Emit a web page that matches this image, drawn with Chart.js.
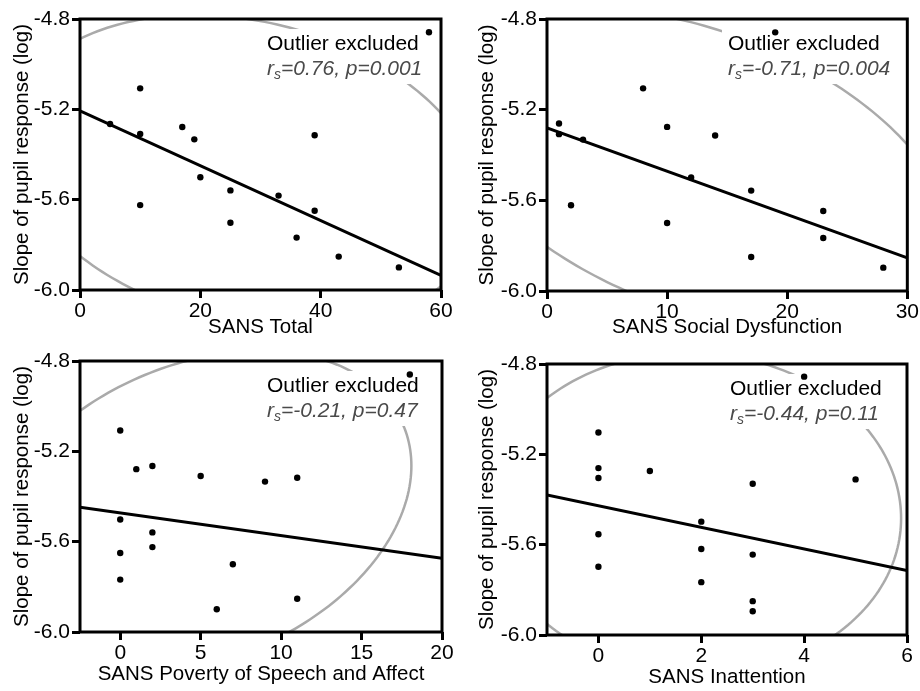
<!DOCTYPE html>
<html>
<head>
<meta charset="utf-8">
<script src="https://cdn.jsdelivr.net/npm/chart.js@4.4.1/dist/chart.umd.min.js"></script>
<style>
  html, body { margin: 0; padding: 0; background: #fff; }
  #wrap { position: relative; width: 920px; height: 691px; }
  .panel { position: absolute; }
</style>
</head>
<body>
<div id="wrap">
  <div class="panel" style="left:0;top:0;width:460px;height:345px"><canvas id="c1"></canvas></div>
  <div class="panel" style="left:460px;top:0;width:460px;height:345px"><canvas id="c2"></canvas></div>
  <div class="panel" style="left:0;top:345px;width:460px;height:346px"><canvas id="c3"></canvas></div>
  <div class="panel" style="left:460px;top:345px;width:460px;height:346px"><canvas id="c4"></canvas></div>
</div>
<script>
// shared y axis
const yTicks = [-4.8, -5.2, -5.6, -6.0];
const yTitle = 'Slope of pupil response (log)';

// SANS Total
const xTotal = [58, 10, 5, 10, 17, 19, 20, 10, 25, 25, 33, 39, 39, 36, 43, 53];
const yTotal = [-4.859, -5.107, -5.265, -5.309, -5.278, -5.333, -5.501, -5.624, -5.559, -5.702, -5.582, -5.315, -5.649, -5.768, -5.852, -5.900];
const fitTotal = [-5.207, -5.935];
const xTicksTotal = [0, 20, 40, 60];

// SANS Social Dysfunction
const xSocial = [19, 8, 1, 1, 3, 10, 14, 12, 17, 2, 10, 23, 23, 17, 28];
const ySocial = [-4.859, -5.106, -5.261, -5.308, -5.332, -5.276, -5.314, -5.499, -5.557, -5.622, -5.700, -5.647, -5.766, -5.850, -5.897];
const fitSocial = [-5.281, -5.854];
const xTicksSocial = [0, 10, 20, 30];

// SANS Poverty of Speech and Affect
const xPoverty = [18, 0, 1, 2, 5, 9, 11, 0, 2, 0, 2, 7, 0, 11, 6];
const yPoverty = [-4.860, -5.108, -5.279, -5.265, -5.309, -5.334, -5.317, -5.502, -5.559, -5.650, -5.624, -5.700, -5.768, -5.853, -5.899];
const fitPoverty = [-5.447, -5.673];
const xTicksPoverty = [0, 5, 10, 15, 20];

// SANS Inattention
const xInatt = [4, 0, 0, 0, 1, 3, 5, 2, 0, 2, 3, 0, 2, 3, 3];
const yInatt = [-4.856, -5.103, -5.261, -5.305, -5.274, -5.330, -5.311, -5.498, -5.554, -5.619, -5.644, -5.698, -5.766, -5.850, -5.895];
const fitInatt = [-5.380, -5.714];
const xTicksInatt = [0, 2, 4, 6];

const FONT = '"Liberation Sans", Arial, Helvetica, sans-serif';
const CHI2_95 = Math.sqrt(5.991); // 95% confidence ellipse

// confidence ellipse + annotation box, drawn under the points
const ellipsePlugin = {
    id: 'ellipse',
    beforeDatasetsDraw(chart) {
        const p = chart.options.plugins.ellipse;
        const { ctx, chartArea: a, scales: { x, y } } = chart;
        const n = p.xs.length;
        const mx = p.xs.reduce((s, v) => s + v, 0) / n;
        const my = p.ys.reduce((s, v) => s + v, 0) / n;
        let sxx = 0, syy = 0, sxy = 0;
        for (let i = 0; i < n; i++) {
            sxx += (p.xs[i] - mx) ** 2;
            syy += (p.ys[i] - my) ** 2;
            sxy += (p.xs[i] - mx) * (p.ys[i] - my);
        }
        sxx /= n - 1; syy /= n - 1; sxy /= n - 1;
        const l11 = Math.sqrt(sxx), l21 = sxy / l11, l22 = Math.sqrt(syy - l21 * l21);

        ctx.save();
        ctx.beginPath();
        ctx.rect(a.left, a.top, a.right - a.left, a.bottom - a.top);
        ctx.clip();
        ctx.beginPath();
        for (let k = 0; k <= 240; k++) {
            const t = k / 240 * Math.PI * 2;
            const px = x.getPixelForValue(mx + CHI2_95 * l11 * Math.cos(t));
            const py = y.getPixelForValue(my + CHI2_95 * (l21 * Math.cos(t) + l22 * Math.sin(t)));
            if (k === 0) ctx.moveTo(px, py); else ctx.lineTo(px, py);
        }
        ctx.strokeStyle = '#aaaaaa';
        ctx.lineWidth = 2.5;
        ctx.stroke();

        // annotation
        const tx = a.left + p.textDx, y1 = a.top + 25, y2 = a.top + 50;
        ctx.font = '21px ' + FONT;
        const w1 = ctx.measureText('Outlier excluded').width;
        ctx.font = 'italic 21px ' + FONT;
        const rest = '=' + p.r + ', p=' + p.p;
        const wr = ctx.measureText('r').width;
        const wRest = ctx.measureText(rest).width;
        ctx.font = 'italic 14px ' + FONT;
        const ws = ctx.measureText('s').width;
        const w = Math.max(w1, wr + ws + wRest);
        ctx.fillStyle = '#fff';
        ctx.fillRect(tx - 6, y1 - 15, w + 12, y2 - y1 + 30);

        ctx.textBaseline = 'middle';
        ctx.textAlign = 'left';
        ctx.fillStyle = '#000';
        ctx.font = '21px ' + FONT;
        ctx.fillText('Outlier excluded', tx, y1);
        ctx.fillStyle = '#4a4a4a';
        ctx.font = 'italic 21px ' + FONT;
        ctx.fillText('r', tx, y2);
        ctx.font = 'italic 14px ' + FONT;
        ctx.fillText('s', tx + wr, y2 + 6);
        ctx.font = 'italic 21px ' + FONT;
        ctx.fillText(rest, tx + wr + ws, y2);
        ctx.restore();
    },
    afterDatasetsDraw(chart) {
        const { ctx, chartArea: a } = chart;
        ctx.save();
        ctx.strokeStyle = '#000';
        ctx.lineWidth = 3;
        ctx.strokeRect(a.left, a.top, a.right - a.left, a.bottom - a.top);
        ctx.restore();
    }
};

function axisGrid() {
    return { display: true, drawOnChartArea: false, drawTicks: true, tickLength: 8, tickWidth: 3, tickColor: '#000' };
}

function makePanel(id, xs, ys, fit, xTicks, xMin, xMax, xTitle, r, p, lay) {
    new Chart(document.getElementById(id), {
        type: 'scatter',
        data: {
            datasets: [{
                data: xs.map((v, i) => ({ x: v, y: ys[i] })),
                backgroundColor: '#000',
                borderWidth: 0,
                pointRadius: 3.2
            }, {
                type: 'line',
                data: [{ x: xMin, y: fit[0] }, { x: xMax, y: fit[1] }],
                borderColor: '#000',
                borderWidth: 3,
                pointRadius: 0
            }]
        },
        options: {
            responsive: true,
            maintainAspectRatio: false,
            devicePixelRatio: 1,
            animation: false,
            layout: { padding: { top: lay.top, right: lay.right, left: 0, bottom: 0 } },
            plugins: {
                legend: { display: false },
                tooltip: { enabled: false },
                ellipse: { xs, ys, r, p, textDx: lay.textDx }
            },
            scales: {
                x: {
                    type: 'linear',
                    min: xMin,
                    max: xMax,
                    afterBuildTicks: (s) => { s.ticks = xTicks.map(v => ({ value: v })); },
                    afterFit: (s) => { s.height = lay.xH; },
                    grid: axisGrid(),
                    border: { display: false },
                    ticks: { color: '#000', font: { family: FONT, size: 21 }, padding: 1, maxRotation: 0 },
                    title: { display: true, text: xTitle, color: '#000', font: { family: FONT, size: 20.5, lineHeight: 1 }, padding: { top: 0, bottom: lay.xTitlePad } }
                },
                y: {
                    type: 'linear',
                    min: -6.0,
                    max: -4.8,
                    afterBuildTicks: (s) => { s.ticks = yTicks.map(v => ({ value: v })); },
                    afterFit: (s) => { s.width = lay.yW; },
                    grid: axisGrid(),
                    border: { display: false },
                    ticks: { color: '#000', font: { family: FONT, size: 21 }, padding: 2, callback: (v) => v.toFixed(1) },
                    title: { display: true, text: yTitle, color: '#000', font: { family: FONT, size: 20.5, lineHeight: 1 }, padding: { top: lay.yTitlePad, bottom: 0 } }
                }
            }
        },
        plugins: [ellipsePlugin]
    });
}

makePanel('c1', xTotal, yTotal, fitTotal, xTicksTotal, 0, 60, 'SANS Total', '0.76', '0.001',
    { top: 19, right: 19, yW: 80, xH: 55, yTitlePad: 12, xTitlePad: 7, textDx: 187 });
makePanel('c2', xSocial, ySocial, fitSocial, xTicksSocial, 0, 30, 'SANS Social Dysfunction', '-0.71', '0.004',
    { top: 19, right: 12, yW: 87, xH: 54, yTitlePad: 17, xTitlePad: 7, textDx: 181 });
makePanel('c3', xPoverty, yPoverty, fitPoverty, xTicksPoverty, -2.5, 20, 'SANS Poverty of Speech and Affect', '-0.21', '0.47',
    { top: 16, right: 18, yW: 80, xH: 59, yTitlePad: 12, xTitlePad: 6, textDx: 187 });
makePanel('c4', xInatt, yInatt, fitInatt, xTicksInatt, -1, 6, 'SANS Inattention', '-0.44', '0.11',
    { top: 19, right: 13, yW: 87, xH: 56, yTitlePad: 17, xTitlePad: 3, textDx: 183 });
</script>
</body>
</html>
